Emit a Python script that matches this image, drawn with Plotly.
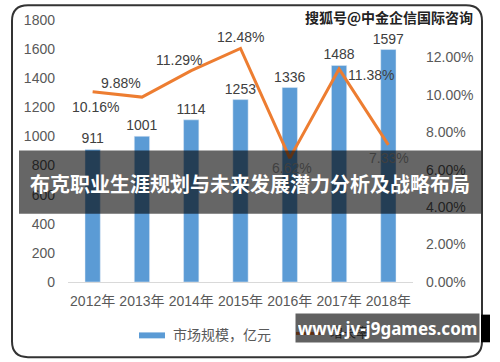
import plotly.graph_objects as go

years = ["2012年", "2013年", "2014年", "2015年", "2016年", "2017年", "2018年"]
market = [911, 1001, 1114, 1253, 1336, 1488, 1597]
growth = [0.1016, 0.0988, 0.1129, 0.1248, 0.0662, 0.1138, 0.0733]
growth_labels = ["10.16%", "9.88%", "11.29%", "12.48%", "6.62%", "11.38%", "7.33%"]
left_ticks = [0, 200, 400, 600, 800, 1000, 1200, 1400, 1600, 1800]
right_ticks = [0, 0.02, 0.04, 0.06, 0.08, 0.10, 0.12]
right_tick_labels = ["0.00%", "2.00%", "4.00%", "6.00%", "8.00%", "10.00%", "12.00%"]
series_names = ["市场规模，亿元", "增长率"]
label_shifts = [(3, -15), (-21, 14), (-12, 11), (0, 11), (2, -10), (32, -6), (1, -13)]

W, H = 500, 362
L, R, T, B = 68, 87, 17, 80
PW, PH = W - L - R, H - T - B

def px(x):
    return (x - L) / PW

def py(y):
    return (H - B - y) / PH

FONT = "Liberation Sans, Noto Sans CJK SC, sans-serif"
GRAY = "#595959"
BLUE = "#5B9BD5"
ORANGE = "#ED7D31"

fig = go.Figure()
fig.add_trace(go.Bar(
    x=years, y=market, width=0.31, marker_color=BLUE,
    text=[str(v) for v in market], textposition="outside", constraintext="none",
    textfont=dict(size=14, color="#404040", family=FONT),
    cliponaxis=False, showlegend=False, name=series_names[0]))
fig.add_trace(go.Scatter(
    x=years, y=growth, yaxis="y2", mode="lines",
    line=dict(color=ORANGE, width=3), name=series_names[1], showlegend=False))

for yr, g, lab, (dx, dy) in zip(years, growth, growth_labels, label_shifts):
    fig.add_annotation(x=yr, y=g, yref="y2", text=lab, showarrow=False,
                       xshift=dx, yshift=dy,
                       font=dict(size=14, color="#404040", family=FONT))

shapes = []
# outer rounded frame
x0, x1, y0, y1, r = 12, 482, 2, 358, 16
path = (f"M {px(x0+r)},{py(y0)} L {px(x1-r)},{py(y0)} Q {px(x1)},{py(y0)} {px(x1)},{py(y0+r)} "
        f"L {px(x1)},{py(y1-r)} Q {px(x1)},{py(y1)} {px(x1-r)},{py(y1)} "
        f"L {px(x0+r)},{py(y1)} Q {px(x0)},{py(y1)} {px(x0)},{py(y1-r)} "
        f"L {px(x0)},{py(y0+r)} Q {px(x0)},{py(y0)} {px(x0+r)},{py(y0)} Z")
shapes.append(dict(type="path", xref="paper", yref="paper", path=path,
                   line=dict(color="#333333", width=2), layer="above"))
# legend swatches
shapes.append(dict(type="rect", xref="paper", yref="paper",
                   x0=px(139), x1=px(165), y0=py(339), y1=py(333),
                   fillcolor=BLUE, line=dict(width=0)))
shapes.append(dict(type="line", xref="paper", yref="paper",
                   x0=px(296), x1=px(322), y0=py(334), y1=py(334),
                   line=dict(color=ORANGE, width=3)))
# banner
shapes.append(dict(type="rect", xref="paper", yref="paper",
                   x0=px(19), x1=px(481), y0=py(213), y1=py(149),
                   fillcolor="rgba(0,0,0,0.6)", line=dict(width=0), layer="above"))
shapes.append(dict(type="rect", xref="paper", yref="paper",
                   x0=px(481), x1=px(490), y0=py(343), y1=py(315),
                   fillcolor="#000000", line=dict(width=0), layer="above"))

# legend texts
fig.add_annotation(xref="paper", yref="paper", x=px(171), y=py(336),
                   xanchor="left", yanchor="middle", text=series_names[0], showarrow=False,
                   font=dict(size=14, color=GRAY, family=FONT))
fig.add_annotation(xref="paper", yref="paper", x=px(328), y=py(333),
                   xanchor="left", yanchor="middle", text=series_names[1], showarrow=False,
                   font=dict(size=13, color=GRAY, family=FONT))

fig.add_annotation(xref="paper", yref="paper", x=px(250), y=py(182),
                   xanchor="center", yanchor="middle",
                   text="<b>布克职业生涯规划与未来发展潜力分析及战略布局</b>", showarrow=False,
                   font=dict(size=20, color="white", family="Noto Sans CJK SC"))
fig.add_annotation(xref="paper", yref="paper", x=px(387.5), y=py(329),
                   xanchor="center", yanchor="middle",
                   width=179, height=24, bgcolor="rgba(0,0,0,0.62)", borderpad=2,
                   text="<b>www.jv-j9games.com</b>", showarrow=False,
                   font=dict(size=17, color="white", family="Noto Sans, sans-serif"))
fig.add_annotation(xref="paper", yref="paper", x=px(389), y=py(14),
                   xanchor="center", yanchor="middle",
                   text="<b>搜狐号@中金企信国际咨询</b>", showarrow=False,
                   font=dict(size=14, color="#222222", family="Noto Sans CJK SC"))

fig.update_layout(
    width=W, height=H, margin=dict(l=L, r=R, t=T, b=B),
    paper_bgcolor="white", plot_bgcolor="white",
    font=dict(family=FONT, color=GRAY, size=14),
    shapes=shapes, showlegend=False,
    xaxis=dict(showgrid=False, showline=True, linecolor="#d9d9d9", linewidth=1,
               ticks="", tickfont=dict(size=14, color=GRAY), ticklabelstandoff=6),
    yaxis=dict(range=[0, 1800], tickvals=left_ticks, showgrid=False, zeroline=False,
               showline=False, tickfont=dict(size=14, color=GRAY), ticklabelstandoff=12),
    yaxis2=dict(range=[0, 0.14], tickvals=right_ticks, ticktext=right_tick_labels,
                overlaying="y", side="right", showgrid=False, zeroline=False,
                showline=False, tickfont=dict(size=14, color=GRAY), ticklabelstandoff=12),
)

fig.write_html("out.html", config={"displayModeBar": False},
               post_script="document.body.style.margin='0';document.body.style.overflow='hidden';")
